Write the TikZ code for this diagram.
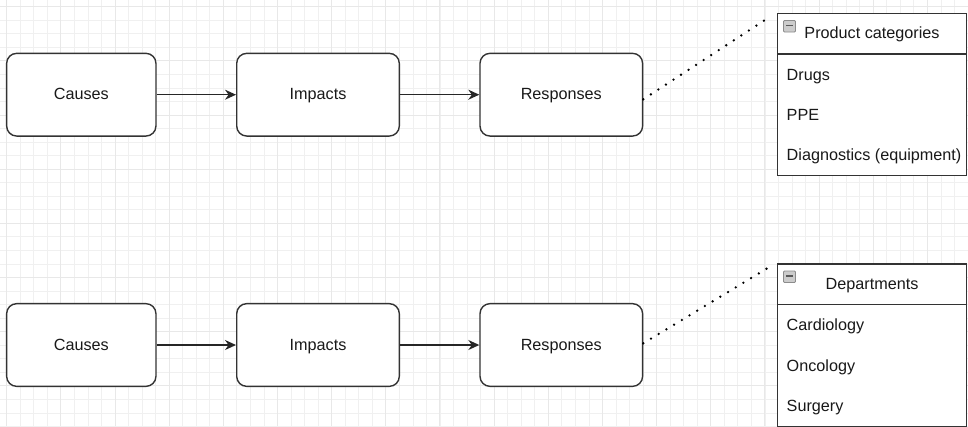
\documentclass[tikz,border=0pt]{standalone}
\usepackage{fontspec}
\setmainfont{Liberation Sans}
\usetikzlibrary{arrows.meta}

\begin{document}
\begin{tikzpicture}[x=1pt, y=-1pt, line width=1.4pt,
    block/.style={draw=black!80, fill=white, rounded corners=10pt, minimum width=149.3pt, minimum height=82.7pt, inner sep=0pt, text height=13pt, text depth=2.7pt, text=black!90, font=\fontsize{16.2}{19}\selectfont},
    wide/.style={block, minimum width=162.6pt},
    head/.style={inner sep=0pt, text height=13pt, text depth=2.7pt, text=black!90, font=\fontsize{16.2}{19}\selectfont},
    item/.style={head, anchor=west},
    link/.style={-{Stealth[length=11pt, width=10pt]}, line width=1.4pt, black!85},
    dots/.style={line width=2.6pt, line cap=round, dash pattern=on 0pt off 9pt, black},
    minor/.style={line width=0.8pt, black!6},
    major/.style={line width=1pt, black!9}]

\useasboundingbox (0,0) rectangle (968,426);
\fill[white] (0,0) rectangle (968,426);

% draw grid
\foreach \i in {0,...,71} {\draw[minor] ({6.7+13.54*\i},0) -- ++(0,426);}
\foreach \i in {0,...,31} {\draw[minor] (0,{6.7+13.54*\i}) -- ++(968,0);}
\foreach \i in {0,4,...,68} {\draw[major] ({6.7+13.54*\i},0) -- ++(0,426);}
\foreach \i in {0,4,...,28} {\draw[major] (0,{6.7+13.54*\i}) -- ++(968,0);}

% draw upper chain
\node[block] (cause1) at (81.3, 94.7) {Causes};
\node[wide] (impact1) at (318, 94.7) {Impacts};
\node[wide] (resp1) at (561.3, 94.7) {Responses};
\draw[link] (cause1) -- (impact1);
\draw[link] (impact1) -- (resp1);

% draw lower chain
\node[block] (cause2) at (81.3, 345) {Causes};
\node[wide] (impact2) at (318, 345) {Impacts};
\node[wide] (resp2) at (561.3, 345) {Responses};
\draw[link] (cause2) -- (impact2);
\draw[link] (impact2) -- (resp2);

% draw product list
\draw[black!80, fill=white] (777.3,13.3) rectangle (966.7,175.7);
\draw[black!80] (777.3,54) -- (966.7,54);
\draw[black!45, fill=black!20, line width=0.8pt, rounded corners=1pt] (783.5,20.5) rectangle (795.5,32);
\draw[black!65, line width=1.6pt] (786,25.5) -- (793,25.5);
\node[head] (cathead) at (872,33.7) {Product categories};
\node[item] (drugs) at (786,75) {Drugs};
\node[item] (ppe) at (786,115) {PPE};
\node[item] (diag) at (786,155.5) {Diagnostics (equipment)};
\coordinate (catcorner) at (770,16.7);

% draw department list
\draw[black!80, fill=white] (777.3,264) rectangle (966.7,426.4);
\draw[black!80] (777.3,304.6) -- (966.7,304.6);
\draw[black!45, fill=black!20, line width=0.8pt, rounded corners=1pt] (783.5,271) rectangle (795.5,282.5);
\draw[black!65, line width=1.6pt] (786,276) -- (793,276);
\node[head] (dephead) at (872,284.3) {Departments};
\node[item] (cardio) at (786,325) {Cardiology};
\node[item] (onco) at (786,366) {Oncology};
\node[item] (surg) at (786,406) {Surgery};
\coordinate (depcorner) at (772.7,265);

% draw dotted links
\draw[dots] ([yshift=-4.6pt]resp1.east) -- (catcorner);
\draw[dots] ([yshift=1.7pt]resp2.east) -- (depcorner);

\end{tikzpicture}
\end{document}
